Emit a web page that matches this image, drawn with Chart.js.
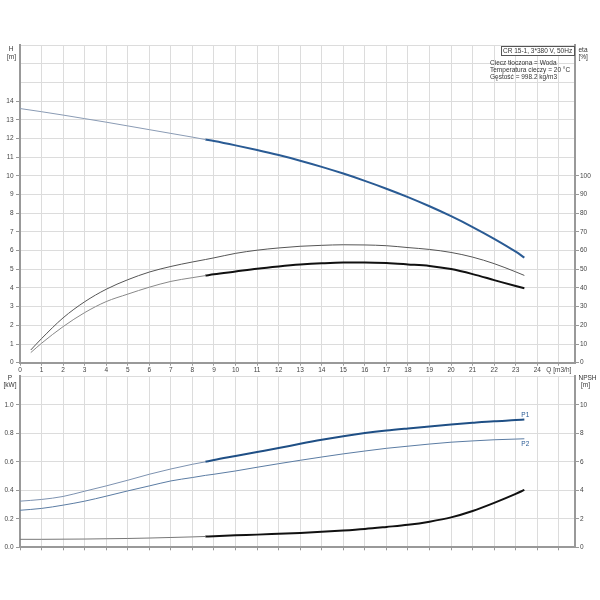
<!DOCTYPE html>
<html><head><meta charset="utf-8">
<script src="https://cdn.jsdelivr.net/npm/chart.js@4.4.1/dist/chart.umd.min.js"></script>
<style>
html,body{margin:0;padding:0;background:#fff;width:600px;height:600px;overflow:hidden}
.wrap{position:absolute;left:0;width:600px}
</style></head><body>
<div class="wrap" style="top:0;height:375px"><canvas id="c1" width="600" height="375"></canvas></div>
<div class="wrap" style="top:370px;height:190px"><canvas id="c2" width="600" height="190"></canvas></div>
<script>
// ---- data ----
const qFlow   = [0,1,2,3,4,5,6,7,8,8.6,9,10,11,12,13,14,15,16,17,18,19,20,21,22,23,23.4];
const headH   = [13.6,13.43,13.25,13.06,12.87,12.67,12.47,12.27,12.07,11.94,11.86,11.63,11.38,11.11,10.81,10.48,10.12,9.73,9.31,8.86,8.37,7.84,7.26,6.63,5.94,5.62];
const qEta    = [0.5,1,2,3,4,5,6,7,8,8.6,9,10,11,12,13,14,15,16,17,18,19,20,21,22,23,23.4];
const etaPump = [6.8,12.9,24.0,32.6,39.3,44.4,48.5,51.5,53.9,55.2,56.1,58.5,60.2,61.4,62.3,62.8,63.1,63.0,62.6,61.6,60.6,59.0,56.5,53.0,48.6,46.7];
const etaTot  = [5.4,10.4,19.3,26.8,32.7,36.7,40.4,43.5,45.5,46.6,47.3,48.8,50.3,51.5,52.5,53.2,53.6,53.6,53.3,52.6,51.8,50.1,47.4,44.2,41.0,39.8];
const powerP1 = [0.324,0.336,0.357,0.394,0.431,0.471,0.513,0.55,0.583,0.60,0.613,0.641,0.669,0.697,0.727,0.755,0.78,0.802,0.82,0.835,0.849,0.862,0.874,0.885,0.893,0.897];
const powerP2 = [0.26,0.273,0.296,0.324,0.359,0.396,0.431,0.466,0.49,0.505,0.513,0.536,0.562,0.587,0.611,0.634,0.656,0.676,0.695,0.71,0.725,0.738,0.747,0.755,0.76,0.762];
const npshR   = [0.56,0.56,0.57,0.58,0.6,0.62,0.65,0.69,0.73,0.76,0.78,0.84,0.89,0.95,1.01,1.09,1.18,1.29,1.43,1.58,1.8,2.1,2.55,3.12,3.75,4.03];
const dutyStart = 8.6;
const qTickLabels = ['0','1','2','3','4','5','6','7','8','9','10','11','12','13','14','15','16','17','18','19','20','21','22','23','24','Q [m3/h]'];
const infoTitle = 'CR 15-1, 3*380 V, 50Hz';
const infoLines = ['Ciecz tłoczona = Woda','Temperatura cieczy = 20 °C','Gęstość = 998.2 kg/m3'];

// ---- helpers ----
const pts = (xs, ys, f) => xs.map((x,i)=>({x, y: ys[i]})).filter(p=>f(p.x));
const pre = x => x <= dutyStart, post = x => x >= dutyStart, all = () => true;
const FONT = 'Liberation Sans, Arial, sans-serif';
Chart.defaults.font.family = FONT;
Chart.defaults.font.size = 6.5;
Chart.defaults.color = '#444';
const GRID = '#dcdcdc', AX = '#999';
const tickCol = lim => ctx => (ctx.tick && ctx.tick.value <= lim + 1e-6) ? AX : 'rgba(0,0,0,0)';
function line(data, axis, color, w){
  return {data, yAxisID: axis, borderColor: color, borderWidth: w, pointRadius: 0,
          fill: false, tension: 0.4, cubicInterpolationMode: 'monotone'};
}
const xScale = (labels, h) => ({
  type: 'linear', min: 0, max: 25.75,
  ticks: {stepSize: 1, includeBounds: false, padding: 0.5, maxRotation: 0, autoSkip: false,
          callback: v => labels ? (qTickLabels[v] ?? '') : ''},
  grid: {color: GRID, tickLength: 3, tickColor: AX},
  border: {color: AX, width: 2},
  afterFit: s => { s.height = h; }
});

// ---- top chart: H and eta ----
new Chart(document.getElementById('c1'), {
  type: 'line',
  data: {datasets: [
    line(pts(qFlow, headH, pre), 'y', '#8a9bb4', 1),
    line(pts(qFlow, headH, post), 'y', '#2a5b94', 2),
    line(pts(qEta, etaPump, all), 'y1', '#555', 1),
    line(pts(qEta, etaTot, pre), 'y1', '#888', 1),
    line(pts(qEta, etaTot, post), 'y1', '#111', 2)
  ]},
  options: {
    responsive: false, animation: false, events: [],
    layout: {padding: {top: 45, left: 0, right: 0, bottom: 0}},
    plugins: {legend: {display: false}, tooltip: {enabled: false}},
    scales: {
      x: xScale(true, 12.3),
      y: {type: 'linear', position: 'left', min: 0, max: 17,
          ticks: {stepSize: 1, padding: 2.5, callback: v => v <= 14 ? String(v) : ''},
          grid: {color: GRID, tickLength: 4, tickColor: tickCol(14)},
          border: {color: AX, width: 2},
          afterFit: s => { s.width = 20; }},
      y1: {type: 'linear', position: 'right', min: 0, max: 170,
          ticks: {stepSize: 10, padding: 1, callback: v => v <= 100 ? String(v) : ''},
          grid: {drawOnChartArea: false, tickLength: 4, tickColor: tickCol(100)},
          border: {color: AX, width: 2},
          afterFit: s => { s.width = 25; }}
    }
  },
  plugins: [{id: 'txt1', afterDraw(c){
    const g = c.ctx; g.save();
    g.font = '6.5px ' + FONT; g.fillStyle = '#333'; g.textBaseline = 'middle';
    g.textAlign = 'center';
    g.fillText('H', 11, 49); g.fillText('[m]', 11.5, 57);
    g.textAlign = 'left';
    g.fillText('eta', 578.5, 50); g.fillText('[%]', 578.5, 57);
    g.fillStyle = '#fff'; g.fillRect(501, 46, 73, 9.5);
    g.strokeStyle = '#555'; g.lineWidth = 1; g.strokeRect(501.5, 46.5, 73, 9);
    g.fillStyle = '#333';
    g.fillText(infoTitle, 503, 51.5);
    infoLines.forEach((t,i)=> g.fillText(t, 490, 63.5 + i*7));
    g.restore();
  }}]
});

// ---- bottom chart: P and NPSH ----
new Chart(document.getElementById('c2'), {
  type: 'line',
  data: {datasets: [
    line(pts(qFlow, powerP1, pre), 'y', '#7d92b0', 1),
    line(pts(qFlow, powerP1, post), 'y', '#1f4f85', 2),
    line(pts(qFlow, powerP2, all), 'y', '#5b7ca3', 1),
    line(pts(qFlow, npshR, pre), 'y1', '#777', 1),
    line(pts(qFlow, npshR, post), 'y1', '#111', 2)
  ]},
  options: {
    responsive: false, animation: false, events: [],
    layout: {padding: {top: 5.7, left: 0, right: 0, bottom: 0}},
    plugins: {legend: {display: false}, tooltip: {enabled: false}},
    scales: {
      x: xScale(false, 12.7),
      y: {type: 'linear', position: 'left', min: 0, max: 1.2,
          ticks: {stepSize: 0.2, padding: 2.5, callback: v => v <= 1.01 ? v.toFixed(1) : ''},
          grid: {color: GRID, tickLength: 4, tickColor: tickCol(1.0)},
          border: {color: AX, width: 2},
          afterFit: s => { s.width = 20; }},
      y1: {type: 'linear', position: 'right', min: 0, max: 12,
          ticks: {stepSize: 2, padding: 1, callback: v => v <= 10 ? String(v) : ''},
          grid: {drawOnChartArea: false, tickLength: 4, tickColor: tickCol(10)},
          border: {color: AX, width: 2},
          afterFit: s => { s.width = 25; }}
    }
  },
  plugins: [{id: 'txt2', afterDraw(c){
    const g = c.ctx; g.save();
    g.font = '6.5px ' + FONT; g.fillStyle = '#333'; g.textBaseline = 'middle';
    g.textAlign = 'center';
    g.fillText('P', 10, 8); g.fillText('[kW]', 10, 15);
    g.textAlign = 'left';
    g.fillText('NPSH', 578.5, 8.5); g.fillText('[m]', 581, 15.5);
    g.textAlign = 'center';
    const n = qFlow.length - 1;
    const xs = c.scales.x, ys = c.scales.y;
    g.fillStyle = '#2a5b94';
    g.fillText('P1', xs.getPixelForValue(qFlow[n]) + 1, ys.getPixelForValue(powerP1[n]) - 4.5);
    g.fillText('P2', xs.getPixelForValue(qFlow[n]) + 1, ys.getPixelForValue(powerP2[n]) + 5);
    g.restore();
  }}]
});
</script>
</body></html>
